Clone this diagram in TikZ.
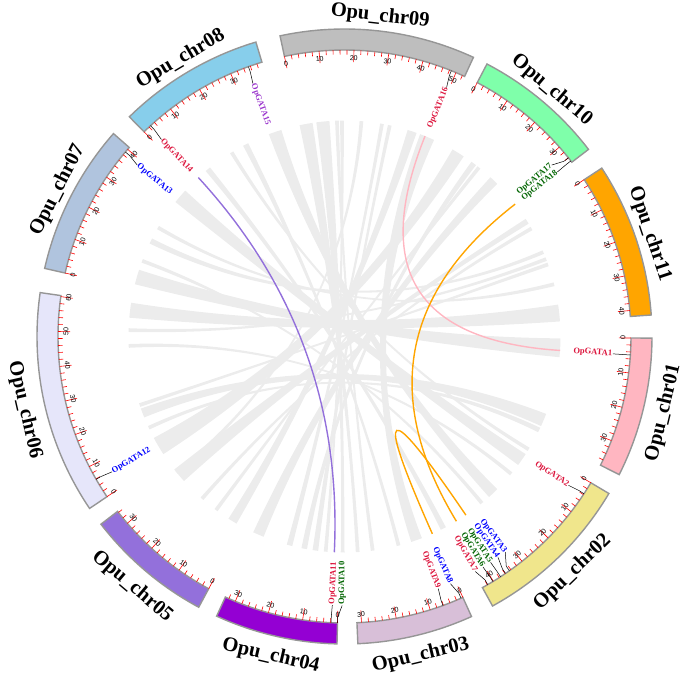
\documentclass[tikz,border=0pt]{standalone}
\usepackage{fontspec}
\setmainfont{Liberation Serif}
\setsansfont{Liberation Sans}
\usetikzlibrary{calc}

% chromosome colours
\definecolor{chr01col}{RGB}{255,182,193}
\definecolor{chr02col}{RGB}{240,230,140}
\definecolor{chr03col}{RGB}{216,191,216}
\definecolor{chr04col}{RGB}{148,0,211}
\definecolor{chr05col}{RGB}{147,112,219}
\definecolor{chr06col}{RGB}{230,230,250}
\definecolor{chr07col}{RGB}{176,196,222}
\definecolor{chr08col}{RGB}{135,206,235}
\definecolor{chr09col}{RGB}{190,190,190}
\definecolor{chr10col}{RGB}{127,255,170}
\definecolor{chr11col}{RGB}{255,165,0}
% gene label colours
\definecolor{gred}{RGB}{220,20,60}
\definecolor{gblue}{RGB}{0,0,255}
\definecolor{ggreen}{RGB}{0,100,0}
\definecolor{gpurple}{RGB}{153,50,204}
% links
\definecolor{linkpurple}{RGB}{147,112,219}
\definecolor{linkpink}{RGB}{255,182,193}
\definecolor{linkorange}{RGB}{255,165,0}
\definecolor{ribboncol}{RGB}{236,236,236}
\definecolor{bandedge}{RGB}{150,150,150}

\newcommand{\Rin}{286.5}
\newcommand{\Rout}{307.5}
\newcommand{\Rmin}{282}
\newcommand{\Rmaj}{274.5}
\newcommand{\Rnum}{278.5}
\newcommand{\Rknee}{281}
\newcommand{\Rlab}{269}
\newcommand{\Rlink}{216}
\newcommand{\Rctl}{72}

% one grey synteny band between two arcs (angles clockwise from east)
\newcommand{\ribbon}[4]{%
  \fill[synteny] (#1:\Rlink) arc[start angle=#1,end angle=#2,radius=\Rlink]
    .. controls (#2:\Rctl) and (#3:\Rctl) .. (#3:\Rlink)
    arc[start angle=#3,end angle=#4,radius=\Rlink]
    .. controls (#4:\Rctl) and (#1:\Rctl) .. cycle;}

\tikzset{
  synteny/.style={fill=ribboncol},
  chrband/.style={draw=bandedge,line width=1.4pt},
  tickline/.style={red,line width=0.6pt},
  ticklabel/.style={font=\sffamily\fontsize{7}{8}\selectfont,inner sep=0pt},
  chrlabel/.style={font=\bfseries\fontsize{20.5}{22}\selectfont,inner sep=0pt},
  genelabel/.style={font=\bfseries\fontsize{8.5}{9}\selectfont,inner sep=0.5pt},
  geneline/.style={black,line width=0.5pt},
  gatalink/.style={line width=1.4pt},
}

\begin{document}
\begin{tikzpicture}[x=1pt,y=1pt,yscale=-1]
\useasboundingbox (-344.5,-336.5) rectangle (340.5,343.5);
\coordinate (O) at (0,0);

% synteny blocks
\ribbon{290.5}{294.5}{69}{72}
\ribbon{300}{303.5}{147}{152}
\ribbon{281.6}{282.6}{97}{98.5}
\ribbon{312.5}{315}{112}{115}
\ribbon{327}{328.5}{138}{142}
\ribbon{329.5}{330.5}{130.8}{131.8}
\ribbon{336.5}{337.5}{205.5}{207}
\ribbon{345.5}{346.5}{209.8}{210.8}
\ribbon{351.5}{356}{185}{189}
\ribbon{0.5}{5.5}{194}{198}
\ribbon{21}{24.5}{158}{160.5}
\ribbon{31}{32}{238}{239}
\ribbon{33}{36.5}{218.5}{222.5}
\ribbon{45}{48}{249.5}{253}
\ribbon{82}{83}{267.5}{268.5}
\ribbon{86}{87}{258}{261.5}
\ribbon{90}{91}{262.5}{266}
\ribbon{120}{122.5}{287}{289.5}
\ribbon{181.2}{182.2}{338.5}{339.5}
\ribbon{154.5}{155.5}{25}{26.3}
\ribbon{268.8}{269.8}{94.5}{95.5}
\ribbon{274}{275}{140.5}{141.5}
\ribbon{306}{307.5}{100}{101.5}
\ribbon{340}{341}{161}{162}
\ribbon{62}{63.5}{230}{231.5}
\ribbon{75}{76}{242}{243.5}
\ribbon{50}{51}{200}{201}
\ribbon{104}{105.5}{279.5}{280.5}
\ribbon{126}{127}{308}{309}
\ribbon{39}{40}{177}{178}

% chromosomes: name / start angle / length (Mb) / colour
\foreach \nm/\st/\len/\col in {01/0.3/37.7/chr01col, 02/30.7/43.6/chr02col,
    03/65.6/31.3/chr03col, 04/91.4/33.1/chr04col, 05/118.3/34.4/chr05col,
    06/146.0/60.3/chr06col, 07/192.8/40.7/chr07col, 08/225.6/39.5/chr08col,
    09/257.9/52.7/chr09col, 10/297.6/35.6/chr10col, 11/326.8/41.7/chr11col}{
  \pgfmathsetmacro{\en}{\st+0.7*\len}
  \pgfmathsetmacro{\md}{\st+0.35*\len}
  \pgfmathsetmacro{\rot}{sin(\md)>0 ? 90-\md : -90-\md}
  \pgfmathsetmacro{\rlab}{sin(\md)>0 ? 328 : 322}
  \draw[chrband,fill=\col] (\st:\Rin) arc[start angle=\st,end angle=\en,radius=\Rin]
    -- (\en:\Rout) arc[start angle=\en,end angle=\st,radius=\Rout] -- cycle;
  \node[chrlabel,rotate=\rot] (chr\nm) at (\md:\rlab) {Opu\_chr\nm};
  \pgfmathtruncatemacro{\nt}{floor(\len/2)}
  \foreach \k in {0,...,\nt}{
    \pgfmathsetmacro{\a}{\st+1.4*\k}
    \pgfmathtruncatemacro{\major}{mod(\k,5)==0}
    \ifnum\major=1
      \pgfmathsetmacro{\trot}{sin(\a)>0 ? 90-\a : -90-\a}
      \pgfmathtruncatemacro{\mb}{2*\k}
      \draw[tickline] (\a:\Rin) -- (\a:\Rmaj);
      \node[ticklabel,rotate=\trot] at (\a:\Rnum) {\mb};
    \else
      \draw[tickline] (\a:\Rin) -- (\a:\Rmin);
    \fi
  }
}

% GATA genes: number / gene angle / label angle / colour
\foreach \g/\ga/\la/\col in {1/3.7/3.7/gred, 2/33.3/33.6/gred, 3/54.85/53.3/gblue,
    4/55.8/55.2/gblue, 5/57.0/57.1/ggreen, 6/58.8/59.0/ggreen, 7/60.0/60.9/gred,
    8/66.0/66.8/gblue, 9/69.9/69.6/gred, 10/91.4/90.5/ggreen, 11/92.7/92.6/gred,
    12/150.1/149.8/gblue, 13/220.1/219.6/gblue, 14/227.4/227.1/gred,
    15/250.4/250.1/gpurple, 16/291.9/292.3/gred, 17/321.4/320.4/ggreen,
    18/322.2/322.3/ggreen}{
  \coordinate (l\g) at (\ga:\Rlink);
  \draw[geneline] (\ga:\Rin) -- (\ga:\Rknee) -- (\la:\Rlab);
  \pgfmathtruncatemacro{\rside}{cos(\la)>=0}
  \ifnum\rside=1
    \node[genelabel,text=\col,rotate=-\la,anchor=east] (gata\g) at (\la:\Rlab) {OpGATA\g};
  \else
    \node[genelabel,text=\col,rotate=180-\la,anchor=west] (gata\g) at (\la:\Rlab) {OpGATA\g};
  \fi
}

% collinear GATA pairs
\draw[gatalink,linkpurple] (l14) .. controls ($(l14)!0.667!(O)$) and ($(l11)!0.667!(O)$) .. (l11);
\draw[gatalink,linkpink] (l16) .. controls ($(l16)!0.667!(O)$) and ($(l1)!0.667!(O)$) .. (l1);
\draw[gatalink,linkorange] (l18) .. controls ($(l18)!0.667!(O)$) and ($(l6)!0.667!(O)$) .. (l6);
\draw[gatalink,linkorange] (l8) .. controls ($(l8)!0.667!(O)$) and ($(l4)!0.667!(O)$) .. (l4);
\end{tikzpicture}
\end{document}
